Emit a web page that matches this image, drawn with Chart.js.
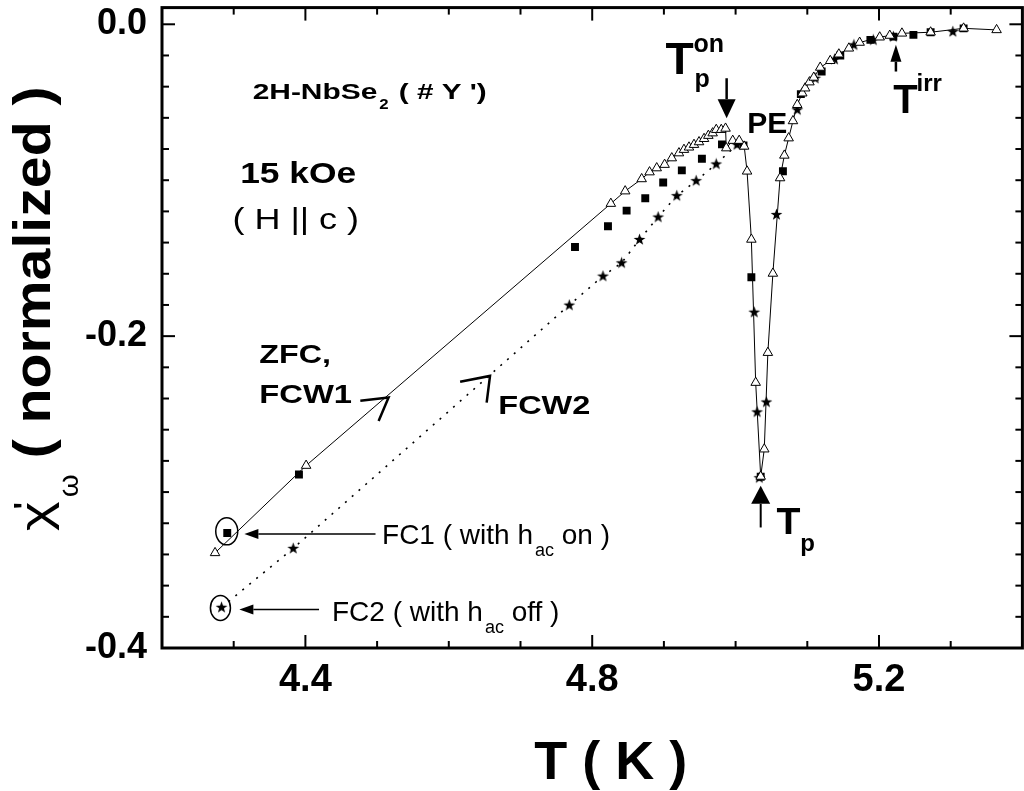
<!DOCTYPE html>
<html><head><meta charset="utf-8">
<script src="https://cdn.jsdelivr.net/npm/chart.js@4.4.1/dist/chart.umd.min.js"></script>
<style>html,body{margin:0;padding:0;background:#fff;overflow:hidden}#wrap{width:1030px;height:791px;position:relative}canvas{display:block}</style>
</head><body><div id="wrap"><canvas id="c" width="1030" height="791" style="width:1030px;height:791px"></canvas></div>
<script>
// ---- data (T in K, chi' normalized) ----
const zfcT   = [4.274,4.401,4.826,4.846,4.869,4.880,4.890,4.901,4.911,4.921,4.928,4.935,4.942,4.949,4.956,4.962,4.968,4.973,4.980,4.986,4.987,4.996,5.005,5.012,5.016,5.022,5.028,5.035,5.040,5.045,5.052,5.062,5.068,5.074,5.080,5.086,5.093,5.097,5.103,5.109,5.118,5.132,5.144,5.158,5.173,5.201,5.215,5.232,5.272,5.318,5.364];
const zfcChi = [-0.339,-0.283,-0.115,-0.107,-0.0992,-0.0948,-0.0922,-0.0900,-0.0858,-0.0826,-0.0804,-0.0789,-0.0772,-0.0755,-0.0734,-0.0714,-0.0698,-0.0676,-0.0676,-0.0668,-0.0794,-0.0746,-0.0746,-0.0783,-0.0943,-0.138,-0.2298,-0.290,-0.2725,-0.2106,-0.1598,-0.0986,-0.0841,-0.073,-0.0620,-0.0516,-0.0442,-0.0410,-0.0371,-0.0341,-0.0277,-0.0234,-0.0192,-0.0154,-0.0117,-0.0083,-0.0072,-0.0058,-0.0051,-0.0026,-0.0036];
const fc1T   = [4.291,4.391,4.776,4.822,4.848,4.874,4.899,4.925,4.953,4.981,5.011,5.022,5.035,5.066,5.091,5.120,5.146,5.188,5.220,5.248,5.272,5.318];
const fc1Chi = [-0.3263,-0.2887,-0.1428,-0.1295,-0.1195,-0.1116,-0.1015,-0.0937,-0.0862,-0.0770,-0.0777,-0.1622,-0.2902,-0.0943,-0.0448,-0.0303,-0.0200,-0.0100,-0.0079,-0.0068,-0.0051,-0.0026];
const fc2T   = [4.283,4.383,4.768,4.815,4.841,4.866,4.892,4.918,4.945,4.973,5.002,5.026,5.030,5.033,5.043,5.057,5.086,5.111,5.138,5.165,5.192,5.220,5.303];
const fc2Chi = [-0.3739,-0.3361,-0.1801,-0.1615,-0.1530,-0.1380,-0.1236,-0.1099,-0.1003,-0.0896,-0.0772,-0.1846,-0.2486,-0.2908,-0.2422,-0.1220,-0.0548,-0.0346,-0.0224,-0.0132,-0.0100,-0.0079,-0.0047];
// ---- axes ----
const xRange = [4.2, 5.4];
const yRange = [-0.4, 0.0107];
const xMajorTicks = [4.4, 4.8, 5.2];
const xTickLabels = ['4.4', '4.8', '5.2'];
const yMajorTicks = [0.0, -0.2, -0.4];
const yTickLabels = ['0.0', '-0.2', '-0.4'];
const xMinorStep = 0.1, yMinorStep = 0.02;
const xTitle = 'T ( K )';

const FONT = '"Liberation Sans", Arial, Helvetica, sans-serif';
const pts = (xs, ys) => xs.map((v, i) => ({x: v, y: ys[i]}));
const near = (a, b) => Math.abs(a - b) < 1e-6;

// filled star marker
const star = document.createElement('canvas');
star.width = 13; star.height = 13;
(function(){ const c = star.getContext('2d'); c.fillStyle = '#000'; c.beginPath();
  for (let i = 0; i < 10; i++) { const r = i % 2 ? 2.5 : 6.2; const a = -Math.PI/2 + i*Math.PI/5;
    const px = 6.5 + r*Math.cos(a), py = 6.8 + r*Math.sin(a); i ? c.lineTo(px, py) : c.moveTo(px, py); }
  c.closePath(); c.fill(); })();

function txt(ctx, s, x, y, size, bold, sx, align) {
  sx = sx || 1; ctx.save();
  ctx.font = (bold ? 'bold ' : '') + size + 'px ' + FONT;
  ctx.textAlign = align || 'left'; ctx.textBaseline = 'alphabetic';
  ctx.translate(x, y); ctx.scale(sx, 1); ctx.fillText(s, 0, 0);
  const w = ctx.measureText(s).width * sx; ctx.restore(); return w;
}
function arrow(ctx, x1, y1, x2, y2, hl, hw, lw) {
  const a = Math.atan2(y2 - y1, x2 - x1);
  const bx = x2 - hl*Math.cos(a), by = y2 - hl*Math.sin(a);
  ctx.lineWidth = lw; ctx.beginPath(); ctx.moveTo(x1, y1); ctx.lineTo(bx, by); ctx.stroke();
  ctx.beginPath(); ctx.moveTo(x2, y2);
  ctx.lineTo(bx + hw*Math.sin(a), by - hw*Math.cos(a));
  ctx.lineTo(bx - hw*Math.sin(a), by + hw*Math.cos(a));
  ctx.closePath(); ctx.fill();
}
function zeroPad(s) { s.paddingTop = 0; s.paddingBottom = 0; s.paddingLeft = 0; s.paddingRight = 0; }

const deco = {
  id: 'deco',
  afterDraw(chart) {
    const {ctx, chartArea: a, scales: {x, y}} = chart;
    const X = v => x.getPixelForValue(v), Y = v => y.getPixelForValue(v);
    ctx.save(); ctx.strokeStyle = '#000'; ctx.fillStyle = '#000';
    // ticks (inward, all four sides)
    ctx.lineWidth = 2;
    const seg = (x1, y1, x2, y2) => { ctx.beginPath(); ctx.moveTo(x1, y1); ctx.lineTo(x2, y2); ctx.stroke(); };
    x.ticks.forEach(t => { const v = t.value; if (near(v, xRange[0]) || near(v, xRange[1])) return;
      const L = xMajorTicks.some(m => near(m, v)) ? 13 : 7; const p = X(v);
      seg(p, a.bottom, p, a.bottom - L); seg(p, a.top, p, a.top + L); });
    y.ticks.forEach(t => { const v = t.value; if (near(v, yRange[0])) return;
      const L = yMajorTicks.some(m => near(m, v)) ? 13 : 7; const p = Y(v);
      seg(a.left, p, a.left + L, p); seg(a.right, p, a.right - L, p); });
    // frame
    ctx.lineWidth = 3; ctx.strokeRect(a.left, a.top, a.right - a.left, a.bottom - a.top);

    // x axis title (the original axis extends past the cropped right edge)
    txt(ctx, xTitle, X(4.8260), a.bottom + 131, 54, true, 1, 'center');

    // y axis title  chi'_omega ( normalized )
    ctx.save(); ctx.translate(a.left - 112, Y(-0.3262)); ctx.rotate(-Math.PI/2);
    let u = 2;
    u += txt(ctx, '\u03C7', u, 0, 42, false, 1.35);
    txt(ctx, "'", u - 8, -16, 30, true, 1);
    u += 4;
    u += txt(ctx, '\u03C9', u, 28, 28, false, 1.05);
    txt(ctx, ' ( normalized )', u, 0, 52, true, 1.1);
    ctx.restore();

    // labels
    let w = txt(ctx, '2H-NbSe', X(4.3264), Y(-0.0478), 22, true, 1.36);
    txt(ctx, '2', X(4.3264) + w + 2, Y(-0.0478) + 10, 14, true, 1.2);
    txt(ctx, "( # Y ')", X(4.5302), Y(-0.0478), 22, true, 1.35);
    txt(ctx, '15 kOe', X(4.3090), Y(-0.1018), 30, true, 1.18);
    txt(ctx, '( H || c )', X(4.2982), Y(-0.1316), 30, false, 1.2);
    txt(ctx, 'ZFC,', X(4.3357), Y(-0.2170), 25, true, 1.29);
    txt(ctx, 'FCW1', X(4.3357), Y(-0.2426), 25, true, 1.31);
    txt(ctx, 'FCW2', X(4.669), Y(-0.2499), 25, true, 1.3);
    txt(ctx, 'PE', X(5.0163), Y(-0.070), 30, true, 1);
    txt(ctx, 'T', X(4.9024), Y(-0.0322), 44, true, 1.05);
    txt(ctx, 'on', X(4.9413), Y(-0.0175), 25, true, 1);
    txt(ctx, 'p', X(4.9426), Y(-0.0405), 25, true, 1);
    txt(ctx, 'T', X(5.2200), Y(-0.0572), 40, true, 1);
    txt(ctx, 'irr', X(5.2524), Y(-0.0431), 24, true, 1);
    txt(ctx, 'T', X(5.0569), Y(-0.3269), 37, true, 1.06);
    txt(ctx, 'p', X(5.0903), Y(-0.3376), 24, true, 1);
    // FC1 / FC2 notes
    let x0 = X(4.5069), y0 = Y(-0.3333);
    w = txt(ctx, 'FC1 ( with h', x0, y0, 28, false, 1);
    let ws = txt(ctx, 'ac', x0 + w + 2, y0 + 12, 18, false, 1);
    txt(ctx, ' on )', x0 + w + 2 + ws, y0, 28, false, 1);
    x0 = X(4.4371); y0 = Y(-0.3824);
    w = txt(ctx, 'FC2 ( with h', x0, y0, 28, false, 1);
    ws = txt(ctx, 'ac', x0 + w + 2, y0 + 12, 18, false, 1);
    txt(ctx, ' off )', x0 + w + 2 + ws, y0, 28, false, 1);

    // arrows
    arrow(ctx, X(4.9875), Y(-0.0346), X(4.9875), Y(-0.0602), 19, 9, 2.5);
    arrow(ctx, X(5.2236), Y(-0.0303), X(5.2236), Y(-0.0132), 17, 5.5, 2.5);
    arrow(ctx, X(5.0350), Y(-0.3227), X(5.0350), Y(-0.2960), 18, 9.5, 2);
    arrow(ctx, X(4.4978), Y(-0.3269), X(4.3149), Y(-0.3269), 14, 5, 1.5);
    arrow(ctx, X(4.4190), Y(-0.3753), X(4.3079), Y(-0.3753), 14, 5, 1.5);
    // chevrons
    ctx.lineWidth = 2.5; ctx.lineJoin = 'miter';
    ctx.beginPath(); ctx.moveTo(X(4.4766), Y(-0.2415)); ctx.lineTo(X(4.5160), Y(-0.2394)); ctx.lineTo(X(4.5021), Y(-0.2544)); ctx.stroke();
    ctx.beginPath(); ctx.moveTo(X(4.6158), Y(-0.2292)); ctx.lineTo(X(4.6575), Y(-0.2255)); ctx.lineTo(X(4.6528), Y(-0.2426)); ctx.stroke();
    // ellipses
    ctx.lineWidth = 1.5;
    ctx.beginPath(); ctx.ellipse(X(4.2903), Y(-0.3252), 11, 13.5, 0, 0, Math.PI*2); ctx.stroke();
    ctx.beginPath(); ctx.ellipse(X(4.2815), Y(-0.3743), 10, 12.5, 0, 0, Math.PI*2); ctx.stroke();
    ctx.restore();
  }
};

new Chart(document.getElementById('c'), {
  type: 'scatter',
  data: { datasets: [
    { label: 'ZFC, FCW1', data: pts(zfcT, zfcChi), showLine: true, borderColor: '#000', borderWidth: 1,
      pointStyle: 'triangle', pointRadius: 5.5, pointBackgroundColor: '#fff', pointBorderColor: '#000', pointBorderWidth: 1 },
    { label: 'FC1', data: pts(fc1T, fc1Chi), showLine: false,
      pointStyle: 'rect', pointRadius: 5.6, pointBackgroundColor: '#000', pointBorderColor: '#000', pointBorderWidth: 0 },
    { label: 'FC2', data: pts(fc2T, fc2Chi), showLine: true, borderColor: '#000', borderWidth: 1.6, borderDash: [2, 7],
      segment: { borderColor: c => (c.p0.parsed.x >= 5.0 ? 'rgba(0,0,0,0)' : '#000') },
      pointStyle: star, pointRadius: 6 }
  ]},
  options: {
    responsive: false, animation: false, events: [],
    layout: { padding: { top: 6, right: 3, left: 0, bottom: 0 } },
    plugins: { legend: { display: false }, tooltip: { enabled: false } },
    scales: {
      x: { type: 'linear', min: xRange[0], max: xRange[1], position: 'bottom',
        grid: { display: false, drawTicks: false }, border: { display: false },
        afterBuildTicks: s => { const n = Math.round((xRange[1] - xRange[0]) / xMinorStep);
          s.ticks = Array.from({length: n + 1}, (_, i) => ({ value: +(xRange[0] + i*xMinorStep).toFixed(4) })); },
        afterFit: s => { s.height = 143; zeroPad(s); },
        ticks: { autoSkip: false, maxRotation: 0, padding: 10, color: '#000', font: { family: FONT, size: 38, weight: 'bold' },
          callback: v => { const k = xMajorTicks.findIndex(m => near(m, v)); return k >= 0 ? xTickLabels[k] : ''; } },
        title: { display: false, text: xTitle } },
      y: { type: 'linear', min: yRange[0], max: yRange[1],
        grid: { display: false, drawTicks: false }, border: { display: false },
        afterBuildTicks: s => { const n = Math.round((0 - yRange[0]) / yMinorStep);
          s.ticks = Array.from({length: n + 1}, (_, i) => ({ value: +(yRange[0] + i*yMinorStep).toFixed(4) })); },
        afterFit: s => { s.width = 162; zeroPad(s); },
        ticks: { autoSkip: false, padding: 15, color: '#000', font: { family: FONT, size: 36, weight: 'bold' },
          callback: v => { const k = yMajorTicks.findIndex(m => near(m, v)); return k >= 0 ? yTickLabels[k] : ''; } } }
    }
  },
  plugins: [deco]
});
</script></body></html>
